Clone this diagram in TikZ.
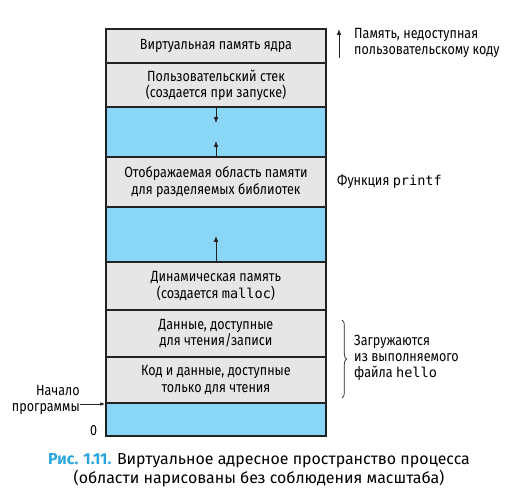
\documentclass[tikz,border=0pt]{standalone}
\usepackage{fontspec}
\setmainfont{Fira Sans}
\setmonofont[Scale=0.92]{DejaVu Sans Mono}
\newfontfamily\narrowfont[FakeStretch=0.85]{Fira Sans}
\usetikzlibrary{arrows.meta,decorations.pathreplacing}
\definecolor{seggray}{HTML}{E6E6E7}
\definecolor{segblue}{HTML}{8AD6F6}
\definecolor{capblue}{HTML}{2AA6DF}
\definecolor{edge}{HTML}{222222}

\begin{document}
\begin{tikzpicture}[x=0.03cm,y=-0.03cm,
    seg/.style={draw=edge,line width=1.3pt,fill=seggray,minimum width=6.6cm,
      inner sep=0pt,align=center,font=\narrowfont\fontsize{12.6}{13.8}\selectfont},
    gap/.style={seg,fill=segblue},
    note/.style={align=left,anchor=west,inner sep=0pt,
      font=\narrowfont\fontsize{12.6}{13.8}\selectfont},
    growarrow/.style={-{Latex[length=5pt,width=4pt]},line width=0.6pt,edge}]
  \useasboundingbox (0,0) rectangle (518,504);

  % Address space, top to bottom
  \node[seg,minimum height=1.02cm] (kernel) at (216,46) {Виртуальная память ядра};
  \node[seg,minimum height=1.32cm] (stack) at (216,85) {Пользовательский стек\\(создается при запуске)};
  \node[gap,minimum height=1.5cm] (free1) at (216,132) {};
  \node[seg,minimum height=1.5cm] (shlib) at (216,182) {Отображаемая область памяти\\для разделяемых библиотек};
  \node[gap,minimum height=1.65cm] (free2) at (216,234.5) {};
  \node[seg,minimum height=1.44cm] (heap) at (216,286) {Динамическая память\\(создается \texttt{malloc})};
  \node[seg,minimum height=1.41cm] (data) at (216,333.5) {Данные, доступные\\для чтения/записи};
  \node[seg,minimum height=1.38cm] (code) at (216,380) {Код и данные, доступные\\только для чтения};
  \node[gap,minimum height=0.99cm] (unused) at (216,419.5) {};

  % Growth arrows
  \coordinate (stacktip) at (216,123);
  \coordinate (shlibtip) at (216,141);
  \coordinate (heaptip) at (216,236);
  \draw[growarrow] (free1.north) -- (stacktip);
  \draw[growarrow] (free1.south) -- (shlibtip);
  \draw[growarrow] (free2.south) -- (heaptip);

  % Notes on the right
  \coordinate (kbot) at (339,58);
  \coordinate (ktop) at (339,29);
  \draw[growarrow,line width=0.8pt] (kbot) -- (ktop);
  \node[note] (knote) at (354,43) {Память, недоступная\\пользовательскому коду};
  \node[note] (printf) at (337,182) {Функция \texttt{printf}};
  \coordinate (btop) at (342,320);
  \coordinate (bbot) at (342,398);
  \draw[decorate,decoration={brace,amplitude=4pt},line width=0.6pt,edge] (btop) -- (bbot);
  \node[note] (loaded) at (354,358) {Загружаются\\из выполняемого\\файла \texttt{hello}};

  % Notes on the left
  \node[note,anchor=east,align=right] (start) at (80,400) {Начало\\программы};
  \coordinate (entry) at (105,404);
  \draw[growarrow,line width=0.5pt,-{Latex[length=4pt,width=3pt]}] (start.east |- entry) -- (entry);
  \node[note] (zero) at (90,431) {0};

  % Caption
  \node[align=center,inner sep=0pt,font=\fontsize{13.6}{16.3}\selectfont] (caption) at (259,470)
    {\textcolor{capblue}{\bfseries Рис. 1.11.} Виртуальное адресное пространство процесса\\(области нарисованы без соблюдения масштаба)};
\end{tikzpicture}
\end{document}
